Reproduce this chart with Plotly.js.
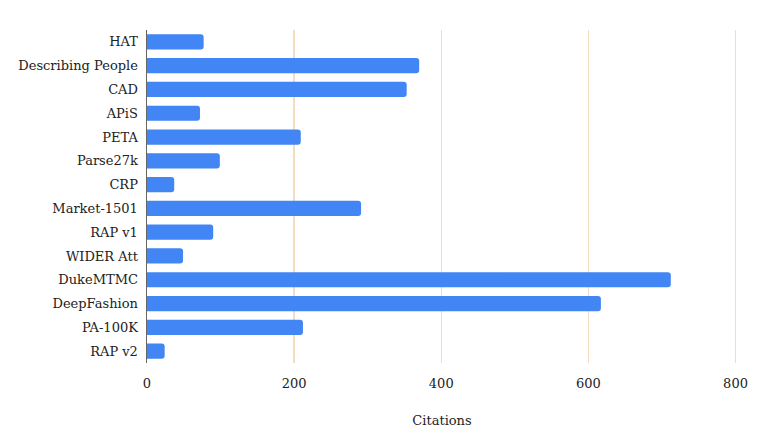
<!DOCTYPE html>
<html><head><meta charset="utf-8">
<script src="https://cdn.plot.ly/plotly-3.0.1.min.js"></script>
<style>html,body{margin:0;padding:0;background:#fff}</style>
</head><body><div id="chart" style="width:761px;height:438px"></div>
<script>
const datasets = ["HAT","Describing People","CAD","APiS","PETA","Parse27k","CRP","Market-1501","RAP v1","WIDER Att","DukeMTMC","DeepFashion","PA-100K","RAP v2"];
const citations = [77,370,353,72,209,99,37,291,90,49,712,617,212,24];
const xTicks = [0,200,400,600,800];

const font = "'DejaVu Serif', serif";
Plotly.newPlot("chart", [{
  type: "bar", orientation: "h",
  y: datasets, x: citations,
  marker: {color: "#4285F4", cornerradius: 3},
  hoverinfo: "none"
}], {
  width: 761, height: 438,
  margin: {l: 147, r: 24, t: 30, b: 75},
  paper_bgcolor: "#fff", plot_bgcolor: "#fff",
  bargap: 0.36,
  showlegend: false,
  font: {family: font, size: 13, color: "#222"},
  xaxis: {
    range: [0, 802], tickvals: xTicks, ticktext: xTicks.map(String),
    showgrid: true, gridcolor: "#f4dcc0", gridwidth: 1.5,
    zeroline: false, showline: false,
    ticks: "outside", ticklen: 8, tickcolor: "rgba(0,0,0,0)",
    tickfont: {family: font, size: 13, color: "#222"},
    title: {text: "Citations", font: {family: font, size: 13, color: "#222"}, standoff: 26}
  },
  yaxis: {
    autorange: "reversed", showgrid: false, zeroline: false,
    showline: true, linecolor: "#666", linewidth: 1.5,
    ticks: "outside", ticklen: 5, tickcolor: "rgba(0,0,0,0)",
    tickfont: {family: font, size: 13, color: "#222"}
  }
}, {staticPlot: true, displayModeBar: false});
</script></body></html>
